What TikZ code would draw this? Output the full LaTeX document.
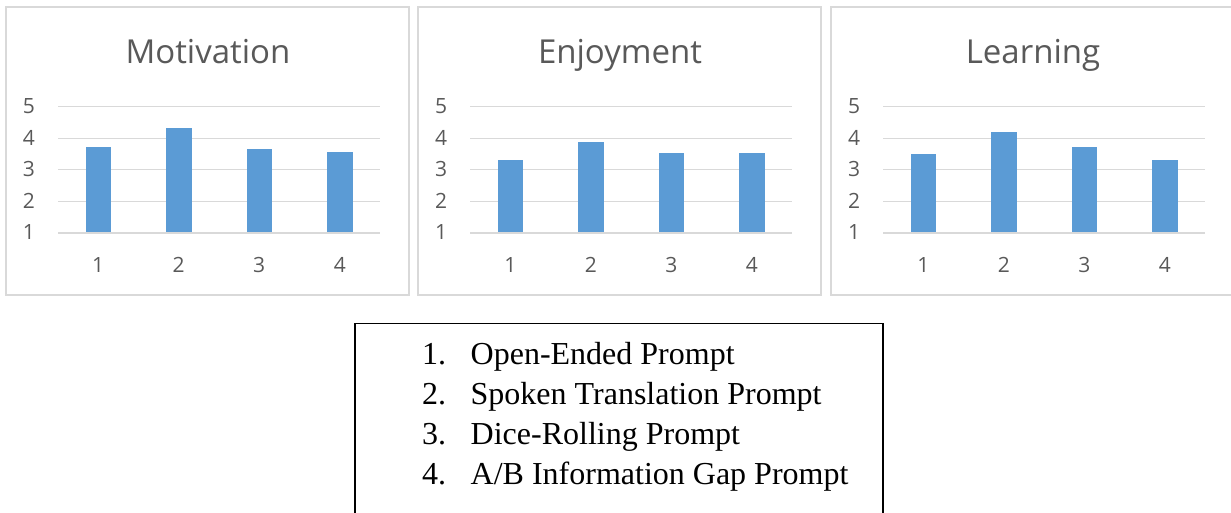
\documentclass[tikz,border=0pt]{standalone}
\usepackage{fontspec}
\setmainfont{Liberation Serif}
\newfontfamily\chartfont{Open Sans}
\definecolor{barblue}{HTML}{5B9BD5}
\definecolor{gridgray}{HTML}{D9D9D9}
\definecolor{txtgray}{HTML}{595959}
\tikzset{
  panelbox/.style={draw=gridgray, line width=1.6pt},
  gridline/.style={draw=gridgray, line width=1.2pt},
  charttitle/.style={font=\chartfont\fontsize{33}{40}\selectfont, text=txtgray, anchor=base, inner sep=0pt},
  axislab/.style={font=\chartfont\fontsize{21}{25}\selectfont, text=txtgray, anchor=base, inner sep=0pt},
  barfill/.style={fill=barblue, draw=none},
  legnum/.style={font=\fontsize{32}{38}\selectfont, anchor=base west, inner sep=0pt},
  legtext/.style={font=\fontsize{32}{38}\selectfont, anchor=base west, inner sep=0pt},
  legbox/.style={draw=black, line width=1.3pt}
}
\newcommand\drawchart[7]{%
  \draw[panelbox] (#2,7) rectangle ++(403,288);
  \node[charttitle] (#1-title) at (#2+202,63.5) {#3};
  \foreach \k in {1,...,5} {
    \draw[gridline] (#2+52,{233-(\k-1)*31.6}) -- ++(322,0);
    \node[axislab] (#1-y\k) at (#2+23,{233-(\k-1)*31.6+7}) {\k};
  }
  \foreach \v [count=\i] in {#4,#5,#6,#7} {
    \pgfmathsetmacro\cx{#2+52+40.25+80.5*(\i-1)}
    \fill[barfill] (\cx-12.75,232.4) rectangle (\cx+12.75,{233-(\v-1)*31.6});
    \node[axislab] (#1-x\i) at (\cx,272) {\i};
  }
}
\begin{document}
\begin{tikzpicture}[x=1pt,y=-1pt]
\useasboundingbox (0,0) rectangle (1231,513);
\drawchart{mot}{6}{Motivation}{3.73}{4.32}{3.65}{3.56}
\drawchart{enj}{418}{Enjoyment}{3.32}{3.89}{3.54}{3.54}
\drawchart{lea}{831}{Learning}{3.49}{4.20}{3.71}{3.32}
\draw[legbox] (355,520) -- (355,323.5) -- (883,323.5) -- (883,520);
\node[legnum] (n1) at (422,364) {1.};
\node[legtext] (t1) at (470.5,364) {Open-Ended Prompt};
\node[legnum] (n2) at (422,404) {2.};
\node[legtext] (t2) at (470.5,404) {Spoken Translation Prompt};
\node[legnum] (n3) at (422,444) {3.};
\node[legtext] (t3) at (470.5,444) {Dice-Rolling Prompt};
\node[legnum] (n4) at (422,484) {4.};
\node[legtext] (t4) at (470.5,484) {A/B Information Gap Prompt};
\end{tikzpicture}
\end{document}
